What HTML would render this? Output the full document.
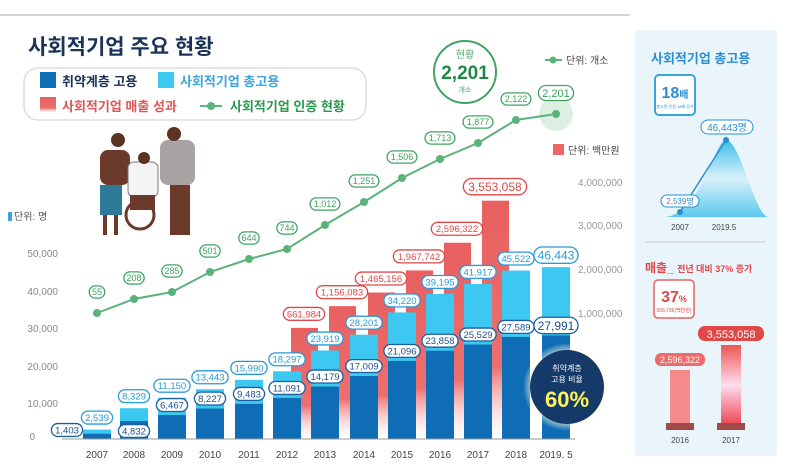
<!DOCTYPE html>
<html><head><meta charset="utf-8"><style>
body{margin:0;width:796px;height:470px;overflow:hidden;background:#fff;font-family:"Liberation Sans","Noto Sans CJK KR",sans-serif}
</style></head><body>
<svg id="s" width="796" height="470" xmlns="http://www.w3.org/2000/svg" font-family="Liberation Sans, Noto Sans CJK KR, sans-serif">
<defs>
<linearGradient id="rg" x1="0" y1="0" x2="0" y2="1"><stop offset="0" stop-color="#e8605f"/><stop offset="0.7" stop-color="#ec6f6f"/><stop offset="1" stop-color="#fff" stop-opacity="0.3"/></linearGradient>
<linearGradient id="mt" x1="0" y1="0" x2="0" y2="1"><stop offset="0" stop-color="#3fbde8"/><stop offset="0.5" stop-color="#d8f1fa"/><stop offset="1" stop-color="#5cc8ee"/></linearGradient>
<linearGradient id="rb" x1="0" y1="0" x2="0" y2="1"><stop offset="0" stop-color="#e55"/><stop offset="0.5" stop-color="#fde"/><stop offset="1" stop-color="#e45"/></linearGradient>
<radialGradient id="yg"><stop offset="0.7" stop-color="#fff6a0"/><stop offset="1" stop-color="#fff" stop-opacity="0"/></radialGradient>
</defs>
<line x1="0" y1="15" x2="630" y2="15" stroke="#aab" stroke-width="1"/>
<rect x="635" y="30" width="142" height="426" fill="#eaf4fb"/>
<text x="28" y="54" font-size="21" font-weight="bold" fill="#1b3358">사회적기업 주요 현황</text>
<rect x="24" y="68" width="342" height="52" rx="14" fill="#fff" stroke="#ddd" stroke-width="1.5"/>
<rect x="40" y="72" width="16" height="16" fill="#0e6db5"/><text x="62" y="86" font-size="13" font-weight="bold" fill="#1b3358">취약계층 고용</text>
<rect x="158" y="72" width="16" height="16" fill="#3cc8f0"/><text x="180" y="86" font-size="13" font-weight="bold" fill="#3aa6dc">사회적기업 총고용</text>
<rect x="40" y="97" width="16" height="16" fill="url(#rg)"/><text x="62" y="111" font-size="13" font-weight="bold" fill="#e05555">사회적기업 매출 성과</text>
<line x1="200" y1="106" x2="222" y2="106" stroke="#5bb37a" stroke-width="2"/><circle cx="211" cy="106" r="4" fill="#5bb37a"/>
<text x="230" y="111" font-size="13" font-weight="bold" fill="#2a9a50">사회적기업 인증 현황</text>
<g>
<rect x="100" y="150" width="30" height="35" rx="8" fill="#6b3a2a"/><rect x="100" y="185" width="22" height="30" fill="#2d7a9a"/>
<rect x="103" y="215" width="4" height="20" fill="#6b3a2a"/><rect x="114" y="215" width="4" height="20" fill="#6b3a2a"/>
<circle cx="118" cy="140" r="7" fill="#5a3322"/>
<rect x="160" y="140" width="35" height="45" rx="8" fill="#a9a2a3"/><circle cx="174" cy="134" r="7" fill="#5a3322"/>
<rect x="170" y="185" width="20" height="50" fill="#6b3a2a"/>
<rect x="128" y="162" width="30" height="35" rx="6" fill="#f4f4f4" stroke="#777"/><circle cx="144" cy="158" r="6" fill="#5a3322"/>
<circle cx="140" cy="215" r="14" fill="none" stroke="#6b3a2a" stroke-width="3"/>
<rect x="130" y="195" width="25" height="15" fill="#6b3a2a"/>
</g>
<text x="14" y="220" font-size="10" fill="#555">단위: 명</text><rect x="8" y="212" width="4" height="9" fill="#3aa6dc"/>
<g id="axes" font-size="10" fill="#888"></g>
<g id="bars"></g>
<line x1="62" y1="439" x2="575" y2="439" stroke="#999" stroke-width="1"/>
<circle cx="465" cy="72" r="31" fill="#fff" stroke="#3fa460" stroke-width="2"/>
<text x="465" y="58" font-size="10" text-anchor="middle" fill="#3fa460">현황</text>
<text x="465" y="79" font-size="19" font-weight="bold" text-anchor="middle" fill="#1f8a45">2,201</text>
<text x="465" y="92" font-size="7" text-anchor="middle" fill="#3fa460">개소</text>
<line x1="545" y1="60" x2="562" y2="60" stroke="#5bb37a" stroke-width="2"/><circle cx="553" cy="60" r="3.5" fill="#5bb37a"/>
<text x="566" y="64" font-size="10" fill="#444">단위: 개소</text>
<rect x="553" y="144" width="11" height="11" fill="#ee6666"/><text x="568" y="154" font-size="10" fill="#444">단위: 백만원</text>
<circle cx="567" cy="387" r="44" fill="url(#yg)"/>
<circle cx="567" cy="387" r="37" fill="#153a6a"/>
<text x="567" y="371" font-size="8" text-anchor="middle" fill="#fff">취약계층</text>
<text x="567" y="382" font-size="8" text-anchor="middle" fill="#fff">고용 비율</text>
<text x="567" y="407" font-size="22" font-weight="bold" text-anchor="middle" fill="#fff35a">60%</text>
<text x="651" y="63" font-size="13" font-weight="bold" fill="#2a8fd0">사회적기업 총고용</text>
<rect x="655" y="75" width="40" height="40" rx="4" fill="#fff" stroke="#3aa6dc" stroke-width="2"/>
<text x="675" y="98" font-size="16" font-weight="bold" text-anchor="middle" fill="#2a8fd0">18<tspan font-size="10">배</tspan></text>
<text x="675" y="108" font-size="4" text-anchor="middle" fill="#2a8fd0">총고용 인원 18배 증가</text>
<path d="M665 217 C700 215 715 140 726 140 C740 140 755 215 768 217 Z" fill="url(#mt)"/>
<line x1="680" y1="212" x2="726" y2="140" stroke="#2a8fd0" stroke-width="1.5"/>
<circle cx="680" cy="212" r="3" fill="#2a8fd0"/><circle cx="726" cy="140" r="3" fill="#2a8fd0"/>
<rect x="701" y="120" width="52" height="14" rx="7" fill="#fff" stroke="#2a8fd0"/><text x="727" y="131" font-size="10" text-anchor="middle" fill="#2a8fd0">46,443명</text>
<rect x="661" y="195" width="38" height="12" rx="6" fill="#fff" stroke="#2a8fd0"/><text x="680" y="204" font-size="8" text-anchor="middle" fill="#2a8fd0">2,539명</text>
<text x="680" y="230" font-size="8" text-anchor="middle" fill="#444">2007</text><text x="724" y="230" font-size="8" text-anchor="middle" fill="#444">2019.5</text>
<line x1="645" y1="242" x2="766" y2="242" stroke="#ccd" />
<text x="645" y="272" font-size="12" font-weight="bold" fill="#e04848">매출_ <tspan font-size="9">전년 대비 37% 증가</tspan></text>
<rect x="654" y="280" width="40" height="38" rx="4" fill="#fff" stroke="#e86060" stroke-width="1.5"/>
<text x="674" y="302" font-size="16" font-weight="bold" text-anchor="middle" fill="#e04848">37<tspan font-size="9">%</tspan></text>
<text x="674" y="312" font-size="5" text-anchor="middle" fill="#e04848">956,736(백만원)</text>
<rect x="670" y="370" width="20" height="55" fill="#f58a8a"/><rect x="666" y="423" width="28" height="7" fill="#a04a4a"/>
<rect x="721" y="345" width="20" height="80" fill="url(#rb)"/><rect x="717" y="423" width="28" height="7" fill="#a04a4a"/>
<rect x="655" y="353" width="50" height="13" rx="6" fill="#ef6a6a"/><text x="680" y="363" font-size="9" text-anchor="middle" fill="#fff">2,596,322</text>
<rect x="698" y="326" width="66" height="15" rx="7" fill="#e04848"/><text x="731" y="338" font-size="11" text-anchor="middle" fill="#fff">3,553,058</text>
<text x="680" y="443" font-size="8" text-anchor="middle" fill="#444">2016</text><text x="731" y="443" font-size="8" text-anchor="middle" fill="#444">2017</text>
</svg>
<script>
const NS="http://www.w3.org/2000/svg",s=document.getElementById('s'),B=document.getElementById('bars'),A=document.getElementById('axes');
function el(t,a,p,txt){const e=document.createElementNS(NS,t);for(const k in a)e.setAttribute(k,a[k]);if(txt!==undefined)e.textContent=txt;(p||B).appendChild(e);return e;}
[[0,437],[10000,404],[20000,367],[30000,329],[40000,292],[50000,254]].forEach(([v,y])=>el('text',{x:v?58:35,y:y+3,'text-anchor':'end',fill:'#888','font-size':10},A,v.toLocaleString('en-US')));
[['4,000,000',182],['3,000,000',225],['2,000,000',269],['1,000,000',313]].forEach(([t,y])=>el('text',{x:578,y:y+4,fill:'#999','font-size':10},A,t));
const yrs=['2007','2008','2009','2010','2011','2012','2013','2014','2015','2016','2017','2018','2019. 5'];
const X=[97,134,172,210,249,287,325,364,402,440,478,516,556];
const dk=[1403,4832,6467,8227,9483,11091,14179,17009,21096,23858,25529,27589,27991];
const lt=[2539,8329,11150,13443,15990,18297,23919,28201,34220,39195,41917,45522,46443];
const rv=[0,0,0,0,0,661984,1156083,1465156,1967742,2596322,3553058];
const gr=[55,208,285,501,644,744,1012,1251,1506,1713,1877,2122,2201];
const GY=[313,299,292,272,259,249,225,202,178,159,143,120,114];
const f=v=>v.toLocaleString('en-US'),k=0.0037,by=439;
X.forEach((x,i)=>el('text',{x:x,y:458,'text-anchor':'middle','font-size':10,fill:'#444'},A,yrs[i]));
rv.forEach((v,i)=>{if(!v)return;const x=X[i]+4,t=357-v*0.000044;el('rect',{x:x,y:t,width:27,height:by-t,fill:'url(#rg)'});});
X.forEach((x,i)=>{const lt_=by-lt[i]*k,dt=by-dk[i]*k;el('rect',{x:x-14,y:lt_,width:28,height:by-lt_,fill:'#3cc8f0'});el('rect',{x:x-14,y:dt,width:28,height:by-dt,fill:'#0e6db5'});});
function lab(cx,cy,t,col,fs,fill,tc){const w=t.length*fs*0.53+6;el('rect',{x:cx-w/2,y:cy-fs*0.68,width:w,height:fs*1.36,rx:fs*0.68,fill:fill||'#fff',stroke:col,'stroke-width':1.3});el('text',{x:cx,y:cy+fs*0.36,'text-anchor':'middle','font-size':fs,fill:tc||col},B,t);}
rv.forEach((v,i)=>{if(!v)return;const t=357-v*0.000044;lab(X[i]+17,t-14,f(v),'#e04848',i==10?12:9.5);});
X.forEach((x,i)=>{const lt_=by-lt[i]*k,dt=by-dk[i]*k;const fs=i==12?12:9.5;lab(x,lt_-12,f(lt[i]),'#2a9ad8',fs);
 let dx=x,dy=dt-10;if(i==0){dx=67;dy=430;}if(i==1)dy=431;lab(dx,dy,f(dk[i]),'#1a5f9f',fs,'#fff','#1a4f8f');});
el('circle',{cx:556,cy:114,r:17,fill:'#dcefe2'});
el('polyline',{points:X.map((x,i)=>x+','+GY[i]).join(' '),fill:'none',stroke:'#5bb37a','stroke-width':2});
X.forEach((x,i)=>{el('circle',{cx:x,cy:GY[i],r:4,fill:'#5bb37a'});lab(x,GY[i]-21,f(gr[i]),'#3fa460',i==12?11:9);});
</script>
</body></html>
